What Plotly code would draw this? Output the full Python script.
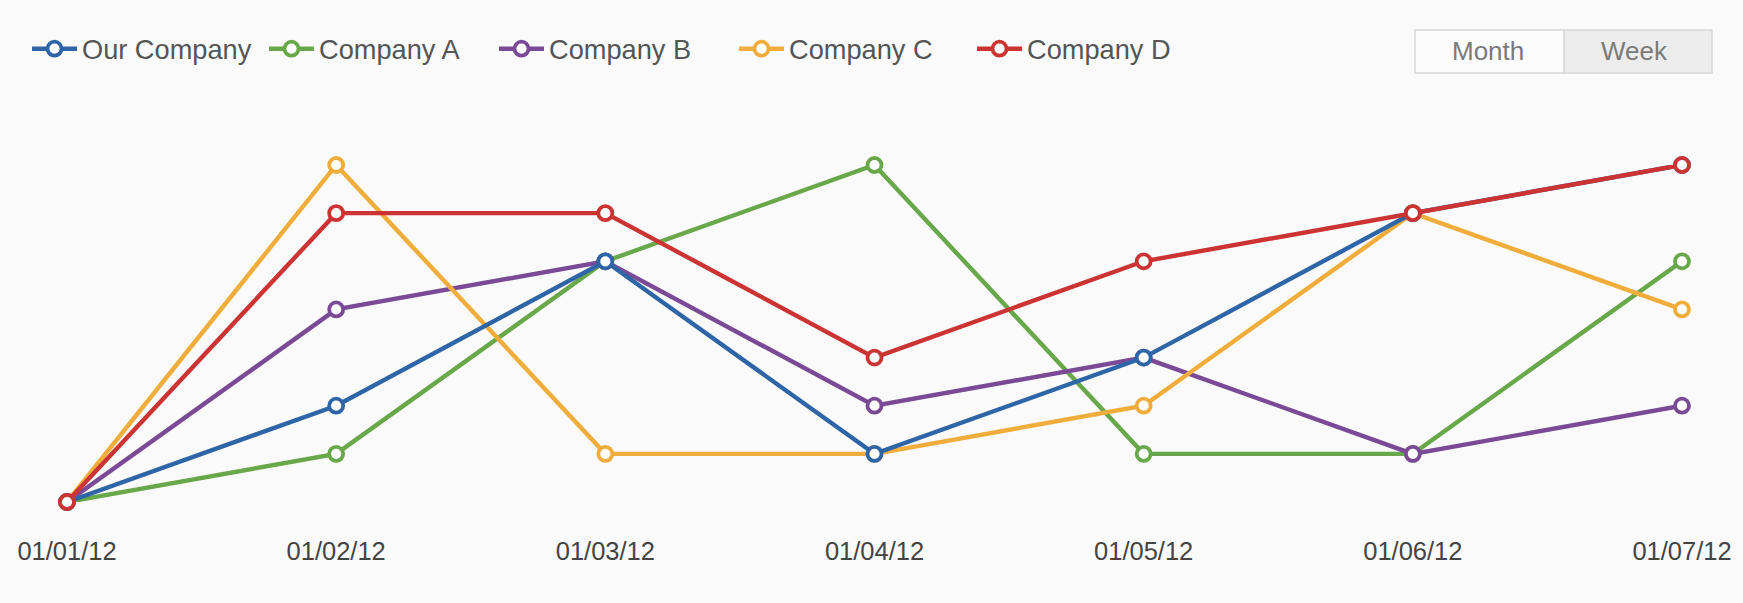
import plotly.graph_objects as go

W, H = 1743, 603
dates = ["01/01/12", "01/02/12", "01/03/12", "01/04/12", "01/05/12", "01/06/12", "01/07/12"]
our_company = [0, 2, 5, 1, 3, 6, 7]
company_a = [0, 1, 5, 7, 1, 1, 5]
company_b = [0, 4, 5, 2, 3, 1, 2]
company_c = [0, 7, 1, 1, 2, 6, 4]
company_d = [0, 6, 6, 3, 5, 6, 7]

names = ["Our Company", "Company A", "Company B", "Company C", "Company D"]
colors = ["#2e65a6", "#68a84a", "#7b4a96", "#f0ad3c", "#cc3333"]
series = [our_company, company_a, company_b, company_c, company_d]
legend_x = [27, 264, 494, 734, 972]
draw_order = [1, 2, 3, 0, 4]

BG = "#fafafa"
FONT = "Liberation Sans, Arial, sans-serif"

fig = go.Figure()
for i in draw_order:
    fig.add_trace(go.Scatter(
        x=dates, y=series[i], name=names[i], mode="lines+markers",
        line=dict(color=colors[i], width=4.4),
        marker=dict(symbol="circle", size=14, color="white",
                    line=dict(color=colors[i], width=3.8)),
        cliponaxis=False,
        legend="legend" if i == 0 else f"legend{i+1}",
    ))

layout_legends = {}
for i in range(5):
    key = "legend" if i == 0 else f"legend{i+1}"
    layout_legends[key] = dict(
        xref="container", yref="container",
        x=legend_x[i] / W, y=1 - 49 / H, xanchor="left", yanchor="middle",
        orientation="h", bgcolor="rgba(0,0,0,0)", borderwidth=0,
        font=dict(family=FONT, size=27.2, color="#555555"),
        itemwidth=45,
    )

PW, PH = W - 128, H - 266
fig.update_layout(
    width=W, height=H,
    paper_bgcolor=BG, plot_bgcolor=BG,
    margin=dict(l=67, r=61, t=165, b=101),
    showlegend=True,
    **layout_legends,
    xaxis=dict(
        type="category", range=[0, 6], showgrid=False, zeroline=False,
        showline=False, ticks="", ticklabelstandoff=31,
        tickfont=dict(family=FONT, size=25.5, color="#444444"),
    ),
    yaxis=dict(range=[0, 7], showgrid=False, zeroline=False, showline=False,
               showticklabels=False, ticks=""),
    shapes=[
        dict(type="rect", xref="paper", yref="paper", layer="above",
             x0=(1415 - 67) / PW, x1=(1564 - 67) / PW,
             y0=1 + (165 - 73) / PH, y1=1 + (165 - 30) / PH,
             fillcolor="#fcfcfc", line=dict(color="#d6d6d6", width=1.5)),
        dict(type="rect", xref="paper", yref="paper", layer="above",
             x0=(1564 - 67) / PW, x1=(1712 - 67) / PW,
             y0=1 + (165 - 73) / PH, y1=1 + (165 - 30) / PH,
             fillcolor="#ececec", line=dict(color="#d6d6d6", width=1.5)),
    ],
    annotations=[
        dict(text="Month", xref="paper", yref="paper", showarrow=False,
             x=(1488 - 67) / PW, y=1 + (165 - 51.5) / PH,
             xanchor="center", yanchor="middle",
             font=dict(family=FONT, size=26, color="#7a7a7a")),
        dict(text="Week", xref="paper", yref="paper", showarrow=False,
             x=(1634 - 67) / PW, y=1 + (165 - 51.5) / PH,
             xanchor="center", yanchor="middle",
             font=dict(family=FONT, size=26, color="#7a7a7a")),
    ],
)

fig.write_html("out.html", config={"displayModeBar": False},
               post_script="document.body.style.margin='0px';document.body.style.background='#fafafa';")
